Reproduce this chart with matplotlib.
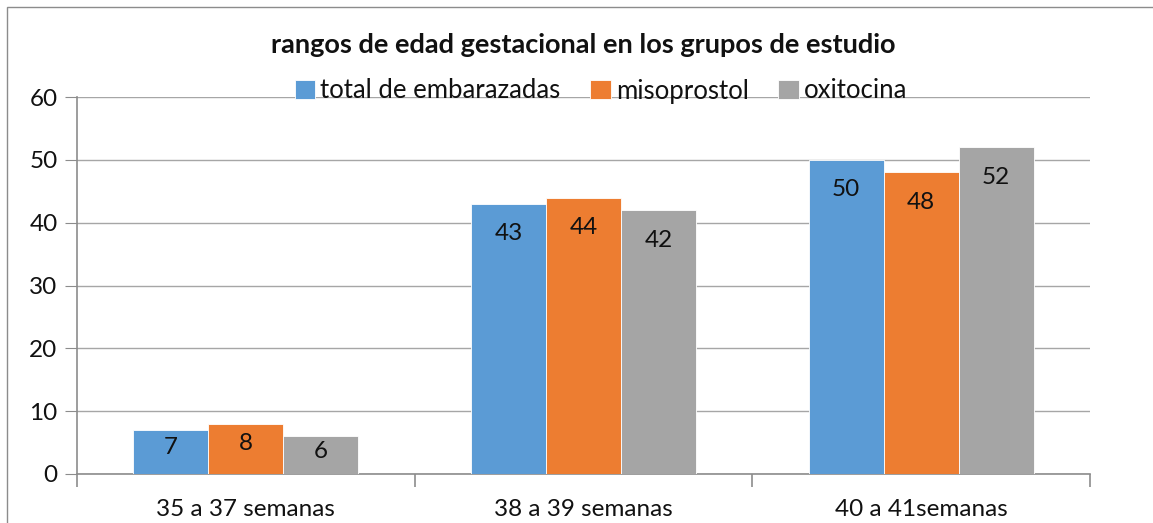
import matplotlib
matplotlib.use("Agg")
import matplotlib.pyplot as plt
from matplotlib.patches import Rectangle
import numpy as np

categories = ["35 a 37 semanas", "38 a 39 semanas", "40 a 41semanas"]
series_names = ["total de embarazadas", "misoprostol", "oxitocina"]
total = [7, 43, 50]
misoprostol = [8, 44, 48]
oxitocina = [6, 42, 52]
colors = ["#5B9BD5", "#ED7D31", "#A5A5A5"]
title = "rangos de edad gestacional en los grupos de estudio"

plt.rcParams['font.family'] = ['Lato', 'DejaVu Sans']

W, H = 1153, 523
fig = plt.figure(figsize=(W/100, H/100), dpi=100)
ax = fig.add_axes([77/W, 1-474/H, (1090-77)/W, (474-97)/H])

# outer frame
fig.patches.append(Rectangle((7/W, -0.1), 1.2, 1-7/H+0.1, transform=fig.transFigure,
                             fill=False, edgecolor="#8c8c8c", linewidth=1.0))

x = np.arange(len(categories))
bw = 75/337.7
data = [total, misoprostol, oxitocina]
ax.set_xlim(-0.5, len(categories)-0.5)
ax.set_ylim(0, 60)
for i, (vals, c, name) in enumerate(zip(data, colors, series_names)):
    bars = ax.bar(x + (i-1)*bw, vals, bw, color=c, edgecolor="white", linewidth=0.6, label=name, zorder=3)
    for b, v in zip(bars, vals):
        hpx = v/60*377
        off = min(30, 0.4*hpx)
        ax.annotate(str(v), (b.get_x()+b.get_width()/2, v), xytext=(0, -off),
                    textcoords="offset pixels", ha="center", va="center",
                    fontsize=17.5, color="#111111", zorder=4)

ax.set_yticks(range(0, 61, 10))
ax.yaxis.grid(True, color="#a6a6a6", linewidth=1.0, zorder=0)
ax.set_axisbelow(True)
for s in ["top", "right"]:
    ax.spines[s].set_visible(False)
for s in ["left", "bottom"]:
    ax.spines[s].set_color("#8c8c8c")
    ax.spines[s].set_linewidth(1.2)
ax.tick_params(axis="y", length=9, color="#8c8c8c", labelsize=17.5, pad=5, labelcolor="#111111")
ax.set_xticks(x)
ax.set_xticklabels(categories)
ax.tick_params(axis="x", length=0, labelsize=17.5, pad=18, labelcolor="#111111")
ax.set_xticks(np.arange(-0.5, len(categories), 1.0), minor=True)
ax.tick_params(axis="x", which="minor", length=9, color="#8c8c8c", width=1.2)

fig.text(583/W, 1-45/H, title, ha="center", va="center", fontsize=19.5, fontweight="bold", color="#111111")

leg = ax.legend(loc="center", bbox_to_anchor=(601/W, 1-91/H), bbox_transform=fig.transFigure,
                ncol=3, frameon=False, fontsize=18.5, handlelength=0.8, handleheight=0.8,
                handletextpad=0.2, columnspacing=1.15, borderpad=0)
for t in leg.get_texts():
    t.set_color("#111111")

fig.savefig("out.png", dpi=100)
